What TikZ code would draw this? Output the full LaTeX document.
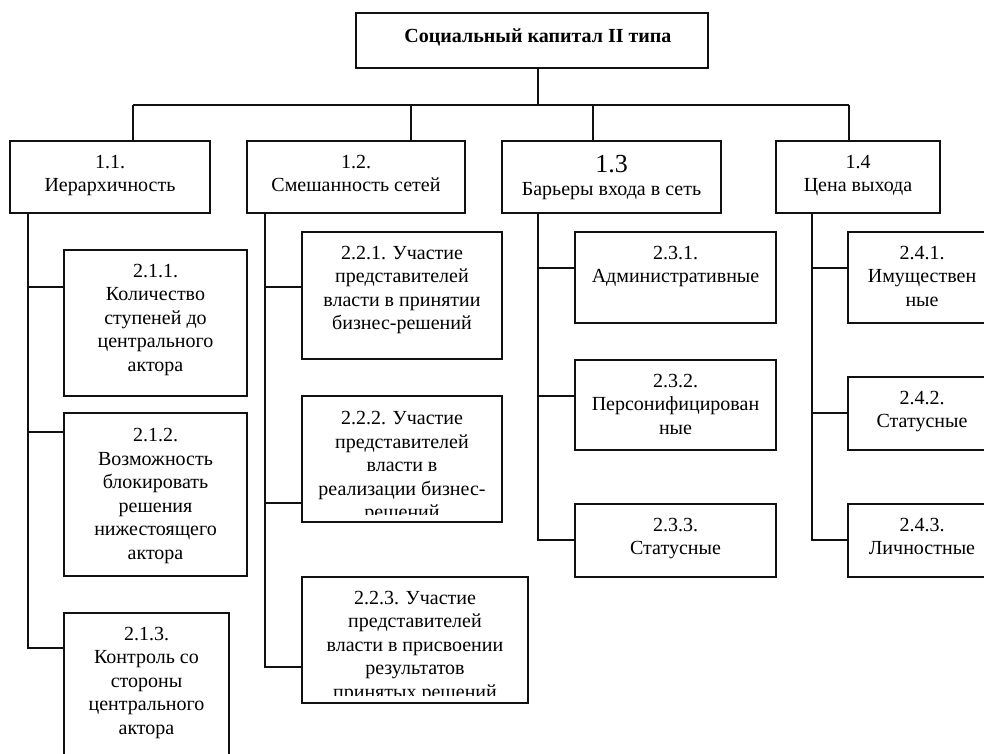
\documentclass[tikz,border=0pt]{standalone}
\usepackage{fontspec}
\setmainfont{Liberation Serif}
\usepackage{xcolor}
\usetikzlibrary{calc}
\definecolor{frameFg}{HTML}{111111}

\begin{document}
\begin{tikzpicture}[x=1pt, y=-1pt,
    box/.style 2 args={draw=frameFg, line width=1.1pt, inner sep=0pt,
      minimum width=#1pt, minimum height=#2pt},
    txt/.style={anchor=north, align=center, inner sep=0pt, yshift=-#1pt,
      font=\fontsize{20}{23.5}\selectfont},
    txt/.default=14.5,
    link/.style={draw=frameFg, line width=1.1pt}]
  \clip (0,0) rectangle (984,753);
  \useasboundingbox (0,0) rectangle (984,753);

  % boxes
  \node[box={352}{55}] (ttl) at (532,40.5) {};
  \node[box={200}{72}] (b11) at (110,177) {};
  \node[box={218}{72}] (b12) at (356,177) {};
  \node[box={219}{72}] (b13) at (611.5,177) {};
  \node[box={164}{72}] (b14) at (858,177) {};

  \node[box={183}{146}] (b211) at (155.5,323) {};
  \node[box={183}{163}] (b212) at (155.5,494.5) {};
  \node[box={165}{157}] (b213) at (146.5,691.5) {};
  \node[box={200}{127}] (b221) at (402,295.5) {};
  \node[box={200}{126}] (b222) at (402,459) {};
  \node[box={226}{126}] (b223) at (415,640) {};
  \node[box={201}{91}] (b231) at (675.5,277.5) {};
  \node[box={201}{90}] (b232) at (675.5,405) {};
  \node[box={201}{73}] (b233) at (675.5,540.5) {};
  \node[box={148}{91}] (b241) at (922,277.5) {};
  \node[box={148}{73}] (b242) at (922,413.5) {};
  \node[box={148}{73}] (b243) at (922,540.5) {};

  % top level
  \coordinate (hub) at (538,105);
  \coordinate (s11) at (133,105);
  \coordinate (s12) at (411,105);
  \coordinate (s13) at (593,105);
  \coordinate (s14) at (849,105);
  \draw[link] (ttl.south -| hub) -- (hub);
  \draw[link] (s11) -- (s14);
  \foreach \b in {11,12,13,14}
    \draw[link] (s\b) -- (s\b |- b\b.north);

  % spines
  \foreach \c/\x/\ya/\yb/\yc in {1/28/287/432/648, 2/265/287/503/667,
      3/538/268/396/540, 4/812/268/413/540} {
    \coordinate (k\c1) at (\x,\ya);
    \coordinate (k\c2) at (\x,\yb);
    \coordinate (k\c3) at (\x,\yc);
    \draw[link] (b1\c.south -| k\c1) -- (k\c3) -- (k\c3 -| b2\c3.west);
    \draw[link] (k\c1) -- (k\c1 -| b2\c1.west);
    \draw[link] (k\c2) -- (k\c2 -| b2\c2.west);
  }

  % texts
  \node[txt=16, font=\fontsize{20}{23.5}\selectfont\bfseries] at (ttl.north -| hub)
    {Социальный капитал II типа};
  \node[txt] at (b11.north) {1.1.\\Иерархичность};
  \node[txt] at (b12.north) {1.2.\\Смешанность сетей};
  \node[txt] at (b13.north) {{\fontsize{26}{28}\selectfont 1.3}\\Барьеры входа в сеть};
  \node[txt] at (b14.north) {1.4\\Цена выхода};

  \node[txt] at (b211.north) {2.1.1.\\Количество\\ступеней до\\центрального\\актора};
  \node[txt=16] at (b212.north) {2.1.2.\\Возможность\\блокировать\\решения\\нижестоящего\\актора};
  \node[txt] at (b213.north) {2.1.3.\\Контроль со\\стороны\\центрального\\актора};

  \node[txt] at (b221.north) {2.2.1. Участие\\представителей\\власти в принятии\\бизнес-решений};
  \begin{scope}
    \clip ($(b222.south west)+(0,-8)$) rectangle (b222.north east);
    \node[txt=16] at (b222.north) {2.2.2. Участие\\представителей\\власти в\\реализации бизнес-\\решений};
  \end{scope}
  \begin{scope}
    \clip ($(b223.south west)+(0,-8)$) rectangle (b223.north east);
    \node[txt] at (b223.north) {2.2.3. Участие\\представителей\\власти в присвоении\\результатов\\принятых решений};
  \end{scope}

  \node[txt] at (b231.north) {2.3.1.\\Административные};
  \node[txt] at (b232.north) {2.3.2.\\Персонифицирован\\ные};
  \node[txt] at (b233.north) {2.3.3.\\Статусные};
  \node[txt] at (b241.north) {2.4.1.\\Имуществен\\ные};
  \node[txt] at (b242.north) {2.4.2.\\Статусные};
  \node[txt] at (b243.north) {2.4.3.\\Личностные};
\end{tikzpicture}
\end{document}
